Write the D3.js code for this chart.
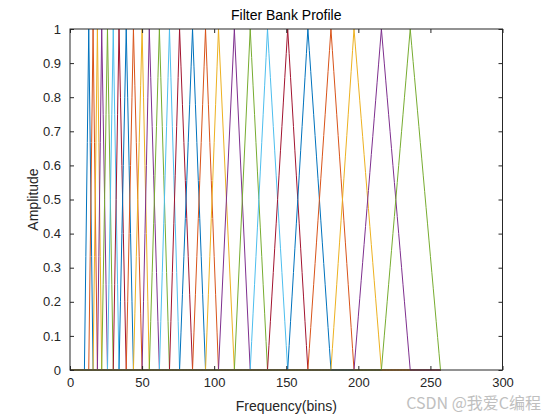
<!DOCTYPE html>
<html>
<head>
<meta charset="utf-8">
<script src="https://cdn.jsdelivr.net/npm/d3@7"></script>
<style>
  body { margin: 0; background: #fff; }
  svg { font-family: "Liberation Sans", Arial, sans-serif; }
</style>
</head>
<body>
<div id="chart"></div>
<script>
// Bords des filtres triangulaires (bins)
const edgeBins = [10, 13, 16, 19, 22, 26, 30, 34, 39, 44, 50, 55, 62, 69, 76,
                  85, 94, 103, 114, 125, 137, 151, 165, 181, 197, 216, 236, 257];
const nBins = 257;
const xTicks = [0, 50, 100, 150, 200, 250, 300];
const yTicks = [0, 0.1, 0.2, 0.3, 0.4, 0.5, 0.6, 0.7, 0.8, 0.9, 1];
const matlabColors = ["#0072BD", "#D95319", "#EDB120", "#7E2F8E", "#77AC30", "#4DBEEE", "#A2142F"];

// Construire chaque filtre sur tous les bins (1..257)
const filters = d3.range(edgeBins.length - 2).map(i => {
    const lo = edgeBins[i], mid = edgeBins[i + 1], hi = edgeBins[i + 2];
    return d3.range(1, nBins + 1).map(k => {
        let v = 0;
        if (k >= lo && k <= mid) v = (k - lo) / (mid - lo);
        else if (k > mid && k <= hi) v = (hi - k) / (hi - mid);
        return { x: k, y: v };
    });
});

function drawChart() {
    const W = 555, H = 417;
    const margin = { top: 29, right: 52.5, bottom: 47, left: 70 };
    const width = W - margin.left - margin.right;
    const height = H - margin.top - margin.bottom;

    const svg = d3.select("#chart").append("svg")
        .attr("width", W)
        .attr("height", H);
    const g = svg.append("g")
        .attr("transform", "translate(" + margin.left + "," + margin.top + ")");

    const x = d3.scaleLinear().domain([0, 300]).range([0, width]);
    const y = d3.scaleLinear().domain([0, 1]).range([height, 0]);

    // Lignes des filtres
    const line = d3.line().x(d => x(d.x)).y(d => y(d.y));
    g.selectAll(".filt")
        .data(filters)
        .enter().append("path")
        .attr("class", "filt")
        .attr("d", line)
        .attr("fill", "none")
        .attr("stroke", (d, i) => matlabColors[i % matlabColors.length])
        .attr("stroke-width", 1);

    // Axes (style MATLAB, graduations vers l'interieur)
    const tickCol = "#262626";
    const styleAxis = sel => {
        sel.select(".domain").remove();
        sel.selectAll("line").attr("stroke", tickCol);
        sel.selectAll("text").attr("fill", tickCol).style("font-size", "13px");
    };
    g.append("g")
        .attr("transform", "translate(0," + height + ")")
        .call(d3.axisBottom(x).tickValues(xTicks).tickSize(-4).tickPadding(8))
        .call(styleAxis);
    g.append("g")
        .call(d3.axisTop(x).tickValues(xTicks).tickSize(-4).tickFormat(""))
        .call(styleAxis);
    g.append("g")
        .call(d3.axisLeft(y).tickValues(yTicks).tickSize(-4).tickPadding(9).tickFormat(d3.format("~g")))
        .call(styleAxis);
    g.append("g")
        .attr("transform", "translate(" + width + ",0)")
        .call(d3.axisRight(y).tickValues(yTicks).tickSize(-4).tickFormat(""))
        .call(styleAxis);

    // Cadre
    g.append("rect")
        .attr("width", width)
        .attr("height", height)
        .attr("fill", "none")
        .attr("stroke", tickCol)
        .attr("stroke-width", 1);

    // Titres
    svg.append("text")
        .attr("x", margin.left + width / 2)
        .attr("y", 20)
        .attr("text-anchor", "middle")
        .attr("fill", "#000")
        .style("font-size", "14px")
        .text("Filter Bank Profile");
    svg.append("text")
        .attr("x", margin.left + width / 2)
        .attr("y", 411)
        .attr("text-anchor", "middle")
        .attr("fill", tickCol)
        .style("font-size", "14px")
        .text("Frequency(bins)");
    svg.append("text")
        .attr("transform", "translate(38," + (margin.top + height / 2) + ") rotate(-90)")
        .attr("text-anchor", "middle")
        .attr("fill", tickCol)
        .style("font-size", "14px")
        .text("Amplitude");

    // Filigrane
    svg.append("text")
        .attr("x", 541)
        .attr("y", 409)
        .attr("text-anchor", "end")
        .attr("fill", "#b5b5b5")
        .attr("opacity", 0.85)
        .style("font-size", "16px")
        .style("font-family", "'Noto Sans CJK SC', 'Liberation Sans', sans-serif")
        .text("CSDN @我爱C编程");
}

document.addEventListener("DOMContentLoaded", drawChart);
</script>
</body>
</html>
